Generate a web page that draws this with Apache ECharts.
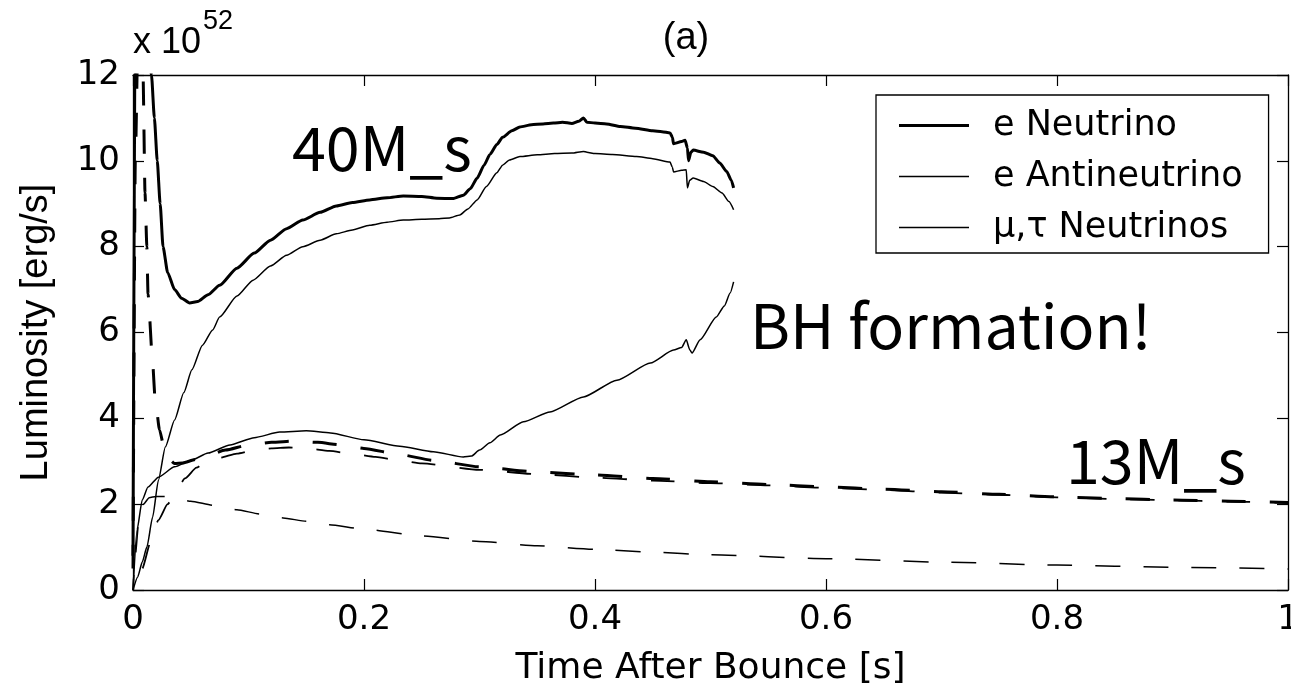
<!DOCTYPE html>
<html>
<head>
<meta charset="utf-8">
<script src="https://cdn.jsdelivr.net/npm/echarts@6/dist/echarts.min.js"></script>
<style>
html,body{margin:0;padding:0;background:#fff;overflow:hidden;}
#chart{width:1291px;height:700px;}
</style>
</head>
<body>
<div id="chart"></div>
<script>
// ---------- data (time after bounce [s], luminosity [1e52 erg/s]) ----------
// 40 M_sun model (solid lines)
const t40e = [0, 0.002, 0.006, 0.012, 0.016, 0.0185, 0.021, 0.0235, 0.026, 0.030, 0.036, 0.042, 0.049, 0.056, 0.065, 0.075, 0.09, 0.105, 0.119, 0.133, 0.147, 0.162, 0.176, 0.19, 0.205, 0.22, 0.234, 0.25, 0.263, 0.277, 0.286, 0.292, 0.298, 0.304, 0.309, 0.315, 0.32, 0.328, 0.335, 0.345, 0.355, 0.364, 0.372, 0.38, 0.386, 0.39, 0.393, 0.40, 0.41, 0.422, 0.435, 0.45, 0.458, 0.465, 0.467, 0.468, 0.475, 0.478, 0.480, 0.481, 0.483, 0.485, 0.494, 0.502, 0.508, 0.514, 0.518, 0.52];
const L40e = [0.8, 14, 16, 13.5, 12, 11, 10, 9, 8, 7.4, 7.0, 6.8, 6.69, 6.72, 6.88, 7.1, 7.5, 7.85, 8.15, 8.42, 8.62, 8.8, 8.95, 9.03, 9.09, 9.14, 9.18, 9.17, 9.13, 9.12, 9.2, 9.35, 9.6, 9.9, 10.15, 10.38, 10.55, 10.7, 10.79, 10.84, 10.86, 10.88, 10.9, 10.87, 10.92, 11.0, 10.9, 10.88, 10.86, 10.8, 10.76, 10.7, 10.68, 10.65, 10.55, 10.4, 10.45, 10.48, 10.3, 10.0, 10.2, 10.25, 10.2, 10.12, 9.95, 9.75, 9.55, 9.37];

const t40a = [0, 0.004, 0.008, 0.012, 0.017, 0.022, 0.028, 0.036, 0.044, 0.051, 0.06, 0.069, 0.075, 0.09, 0.104, 0.119, 0.133, 0.147, 0.162, 0.176, 0.19, 0.205, 0.22, 0.234, 0.25, 0.265, 0.274, 0.283, 0.29, 0.298, 0.306, 0.315, 0.32, 0.326, 0.335, 0.35, 0.365, 0.38, 0.39, 0.393, 0.40, 0.415, 0.436, 0.45, 0.465, 0.467, 0.468, 0.475, 0.479, 0.48, 0.482, 0.485, 0.494, 0.502, 0.51, 0.516, 0.52];
const L40a = [0, 0.3, 0.65, 1.0, 1.7, 2.56, 3.33, 3.96, 4.6, 5.13, 5.7, 6.06, 6.36, 6.85, 7.22, 7.55, 7.8, 8.0, 8.15, 8.3, 8.39, 8.5, 8.57, 8.62, 8.64, 8.65, 8.67, 8.74, 8.88, 9.09, 9.4, 9.72, 9.9, 10.02, 10.1, 10.14, 10.17, 10.18, 10.22, 10.2, 10.17, 10.15, 10.1, 10.05, 9.97, 9.85, 9.74, 9.78, 9.79, 9.37, 9.55, 9.6, 9.52, 9.4, 9.25, 9.05, 8.86];

const t40m = [0, 0.0035, 0.008, 0.013, 0.022, 0.036, 0.051, 0.065, 0.084, 0.105, 0.127, 0.15, 0.171, 0.2, 0.231, 0.26, 0.286, 0.293, 0.3, 0.309, 0.318, 0.338, 0.361, 0.39, 0.419, 0.448, 0.468, 0.475, 0.479, 0.482, 0.484, 0.491, 0.505, 0.512, 0.517, 0.52];
const L40m = [0, 1.4, 2.1, 2.4, 2.63, 2.87, 3.03, 3.19, 3.38, 3.55, 3.68, 3.71, 3.66, 3.5, 3.35, 3.22, 3.1, 3.12, 3.26, 3.43, 3.61, 3.92, 4.15, 4.5, 4.89, 5.29, 5.59, 5.65, 5.83, 5.6, 5.52, 5.83, 6.36, 6.62, 6.92, 7.18];

// 13 M_sun model (dashed lines)
const t13e = [0, 0.002, 0.005, 0.0087, 0.0104, 0.012, 0.013, 0.017, 0.019, 0.023, 0.027, 0.031, 0.036, 0.043, 0.054, 0.064, 0.08, 0.1, 0.12, 0.14, 0.16, 0.18, 0.2, 0.23, 0.26, 0.3, 0.35, 0.4, 0.45, 0.5, 0.55, 0.6, 0.65, 0.7, 0.75, 0.8, 0.85, 0.9, 0.95, 1.0];
const L13e = [0.5, 10, 14, 12, 9.25, 8.0, 6.9, 5.3, 4.5, 3.73, 3.3, 3.05, 2.95, 2.96, 3.04, 3.12, 3.26, 3.38, 3.44, 3.47, 3.44, 3.38, 3.3, 3.16, 3.02, 2.87, 2.75, 2.68, 2.6, 2.52, 2.46, 2.4, 2.35, 2.29, 2.23, 2.17, 2.13, 2.1, 2.07, 2.04];

const t13a = [0, 0.008, 0.015, 0.022, 0.03, 0.035, 0.045, 0.055, 0.062, 0.075, 0.09, 0.105, 0.12, 0.135, 0.15, 0.17, 0.19, 0.21, 0.23, 0.25, 0.3, 0.35, 0.4, 0.45, 0.5, 0.55, 0.6, 0.65, 0.7, 0.75, 0.8, 0.85, 0.9, 0.95, 1.0];
const L13a = [0, 0.5, 1.1, 1.63, 2.0, 2.17, 2.6, 2.85, 2.96, 3.08, 3.18, 3.26, 3.3, 3.32, 3.3, 3.24, 3.17, 3.1, 3.02, 2.95, 2.8, 2.7, 2.62, 2.55, 2.49, 2.44, 2.38, 2.33, 2.27, 2.22, 2.16, 2.12, 2.09, 2.06, 2.03];

const t13m = [0, 0.002, 0.005, 0.009, 0.014, 0.02, 0.028, 0.035, 0.05, 0.07, 0.09, 0.11, 0.13, 0.15, 0.17, 0.2, 0.25, 0.3, 0.35, 0.4, 0.45, 0.5, 0.6, 0.7, 0.8, 0.9, 1.0];
const L13m = [0, 0.8, 1.6, 2.0, 2.15, 2.18, 2.18, 2.15, 2.07, 1.97, 1.87, 1.77, 1.68, 1.6, 1.52, 1.42, 1.26, 1.13, 1.03, 0.95, 0.88, 0.82, 0.73, 0.65, 0.58, 0.53, 0.49];

const legendNames = ['e Neutrino', 'e Antineutrino', 'μ,τ Neutrinos'];
const xTickLabels = ['0', '0.2', '0.4', '0.6', '0.8', '1'];
const yTickLabels = ['0', '2', '4', '6', '8', '10', '12'];

// ---------- chart ----------
const pairs = (t, v) => t.map((x, i) => [x, v[i]]);
const FONT = 'Liberation Sans, Arial, Helvetica, sans-serif';
const WIDE = 'DejaVu Sans, Verdana, sans-serif';
const JP = 'Noto Sans CJK JP, sans-serif';

const chart = echarts.init(document.getElementById('chart'), null, {renderer: 'canvas'});

function lineSeries(name, t, v, width, dash, offset) {
  return {
    name: name, type: 'line', data: pairs(t, v),
    symbol: 'none', showSymbol: false, smooth: 0.2, smoothMonotone: 'x', animation: false,
    clip: true,
    itemStyle: {color: '#000'},
    lineStyle: {color: '#000', width: width, type: dash || 'solid', dashOffset: offset || 0},
    emphasis: {disabled: true}
  };
}

const axisCommonX = {
  type: 'value', min: 0, max: 1, interval: 0.2,
  axisLine: {show: true, onZero: false, lineStyle: {color: '#000', width: 1.3}},
  axisTick: {show: true, inside: true, length: 11, lineStyle: {color: '#000', width: 1.2}},
  splitLine: {show: false}
};
const axisCommonY = {
  type: 'value', min: 0, max: 12, interval: 2,
  axisLine: {show: true, onZero: false, lineStyle: {color: '#000', width: 1.3}},
  axisTick: {show: true, inside: true, length: 11, lineStyle: {color: '#000', width: 1.2}},
  splitLine: {show: false}
};

const thickIcon = 'path://M0,0H70V3H0Z M89,0L89,3';
const thinIcon = 'path://M0,0H70V1.6H0Z M89,0L89,1.6';

const option = {
  backgroundColor: '#fff',
  animation: false,
  grid: {left: 133, right: 3, top: 75, bottom: 110, containLabel: false, outerBoundsMode: 'none'},
  xAxis: [
    Object.assign({}, axisCommonX, {
      position: 'bottom',
      name: 'Time After Bounce [s]', nameLocation: 'middle', nameGap: 61,
      nameTextStyle: {color: '#000', fontSize: 36, fontFamily: WIDE},
      axisLabel: {show: true, margin: 13, color: '#000', fontSize: 34, fontFamily: WIDE,
        formatter: (val) => xTickLabels[Math.round(val / 0.2)]}
    }),
    Object.assign({}, axisCommonX, {position: 'top', axisLabel: {show: false}})
  ],
  yAxis: [
    Object.assign({}, axisCommonY, {
      position: 'left',
      name: 'Luminosity [erg/s]', nameLocation: 'middle', nameGap: 77,
      nameTextStyle: {color: '#000', fontSize: 38, fontFamily: FONT},
      axisLabel: {show: true, margin: 13, color: '#000', fontSize: 34, fontFamily: WIDE,
        formatter: (val) => yTickLabels[Math.round(val / 2)]}
    }),
    Object.assign({}, axisCommonY, {position: 'right', axisLabel: {show: false}})
  ],
  legend: {
    show: true, orient: 'vertical', left: 876, top: 95,
    padding: [13, 26, 8, 23],
    itemWidth: 89, itemHeight: 30, itemGap: 16,
    backgroundColor: '#fff', borderColor: '#000', borderWidth: 1.3, borderRadius: 0,
    textStyle: {color: '#000', fontSize: 35, fontFamily: WIDE, lineHeight: 30},
    selectedMode: false,
    data: [
      {name: legendNames[0], icon: thickIcon},
      {name: legendNames[1], icon: thinIcon},
      {name: legendNames[2], icon: thinIcon}
    ]
  },
  graphic: [
    {type: 'text', x: 133, y: 43, style: {text: 'x 10', fill: '#000', font: '36px ' + FONT, verticalAlign: 'middle'}},
    {type: 'text', x: 203, y: 22, style: {text: '52', fill: '#000', font: '27px ' + FONT, verticalAlign: 'middle'}},
    {type: 'text', x: 686, y: 39, style: {text: '(a)', fill: '#000', font: '38px ' + FONT, align: 'center', verticalAlign: 'middle'}},
    {type: 'text', x: 292, y: 148, z: 100, style: {text: '40M_s', fill: '#000', font: '61px ' + JP, verticalAlign: 'middle'}},
    {type: 'text', x: 750, y: 326, z: 100, style: {text: 'BH formation!', fill: '#000', font: '61px ' + JP, verticalAlign: 'middle'}},
    {type: 'text', x: 1066, y: 461, z: 100, style: {text: '13M_s', fill: '#000', font: '61px ' + JP, verticalAlign: 'middle'}}
  ],
  series: [
    lineSeries(legendNames[0], t40e, L40e, 3),
    lineSeries(legendNames[1], t40a, L40a, 1.5),
    lineSeries(legendNames[2], t40m, L40m, 1.5),
    lineSeries('13M e Neutrino', t13e, L13e, 3, [24, 24], 0),
    lineSeries('13M e Antineutrino', t13a, L13a, 1.8, [24, 24], 24),
    lineSeries('13M μ,τ Neutrinos', t13m, L13m, 1.5, [25, 23], 10)
  ]
};
chart.setOption(option);
</script>
</body>
</html>
